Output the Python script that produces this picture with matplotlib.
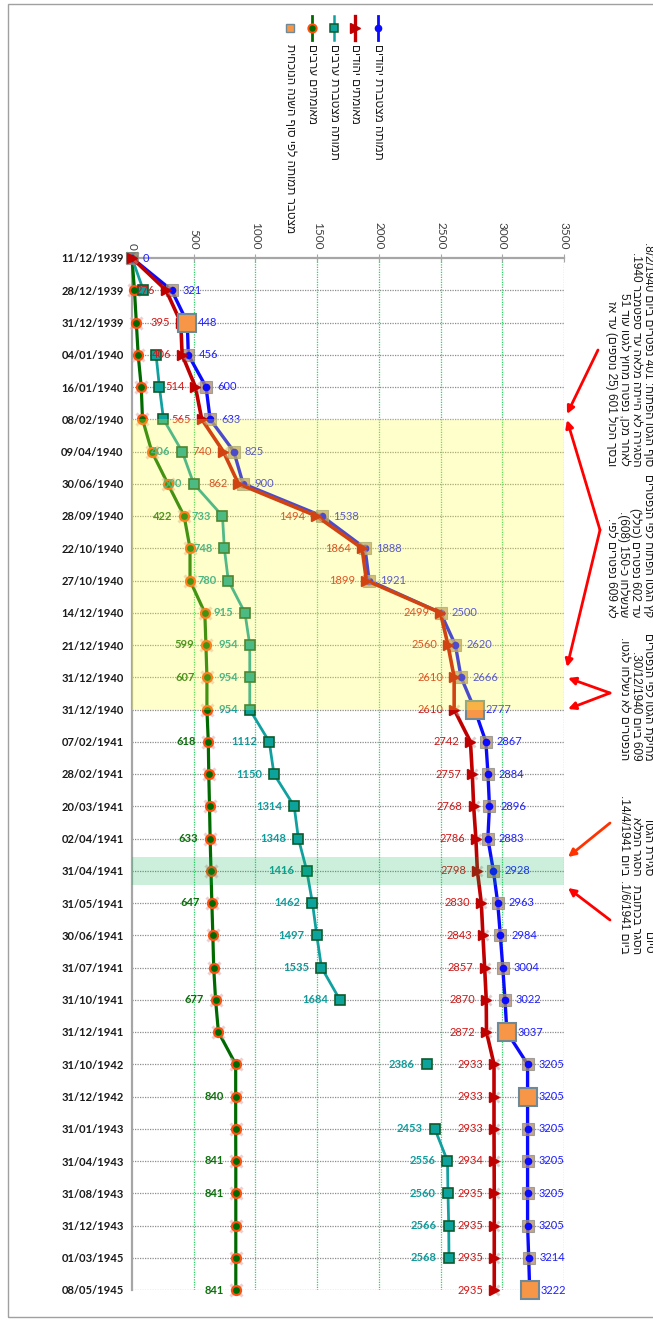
import re
import numpy as np
import matplotlib
matplotlib.use("Agg")
import matplotlib.pyplot as plt
from matplotlib.lines import Line2D
from matplotlib.patches import Rectangle, FancyArrowPatch

# ---------------- data ----------------
dates = ["11/12/1939", "28/12/1939", "31/12/1939", "04/01/1940", "16/01/1940",
         "08/02/1940", "09/04/1940", "30/06/1940", "28/09/1940", "22/10/1940",
         "27/10/1940", "14/12/1940", "21/12/1940", "31/12/1940", "31/12/1940",
         "07/02/1941", "28/02/1941", "20/03/1941", "02/04/1941", "31/04/1941",
         "31/05/1941", "30/06/1941", "31/07/1941", "31/10/1941", "31/12/1941",
         "31/10/1942", "31/12/1942", "31/01/1943", "31/04/1943", "31/08/1943",
         "31/12/1943", "01/03/1945", "08/05/1945"]

jews_total = [0, 321, 448, 456, 600, 633, 825, 900, 1538, 1888, 1921, 2500, 2620,
              2666, 2777, 2867, 2884, 2896, 2883, 2928, 2963, 2984, 3004, 3022,
              3037, 3205, 3205, 3205, 3205, 3205, 3205, 3214, 3222]
jews_confirmed = [0, 276, 395, 406, 514, 565, 740, 862, 1494, 1864, 1899, 2499,
                  2560, 2610, 2610, 2742, 2757, 2768, 2786, 2798, 2830, 2843, 2857,
                  2870, 2872, 2933, 2933, 2933, 2934, 2935, 2935, 2935, 2935]
others_total = [0, 92, None, 195, 222, 255, 406, 500, 733, 748, 780, 915, 954, 954,
                954, 1112, 1150, 1314, 1348, 1416, 1462, 1497, 1535, 1684, None,
                2386, None, 2453, 2556, 2560, 2566, 2568, None]
others_confirmed = [0, 20, 35, 50, 75, 85, 160, 290, 422, 470, 470, 590, 599, 607,
                    607, 618, 622, 628, 633, 640, 647, 655, 662, 677, 700, 840, 840,
                    840, 841, 841, 841, 841, 841]
year_end = [None, None, 448, None, None, None, None, None, None, None, None, None,
            None, None, 2777, None, None, None, None, None, None, None, None, None,
            3037, None, 3205, None, None, None, None, None, 3222]

# which points carry a visible data label
teal_label_rows = [6, 7, 8, 9, 10, 11, 12, 13, 14, 15, 16, 17, 18, 19, 20, 21, 22,
                   23, 25, 27, 28, 29, 30, 31]
green_label_rows = [8, 12, 13, 15, 18, 20, 23, 26, 28, 29, 32]

xticks = [0, 500, 1000, 1500, 2000, 2500, 3000, 3500]

legend_labels = ["תמותה מצטברת יהודים", "מאומתים יהודים", "תמותה מצטברת ערבים",
                 "מאומתים ערבים", "מצטבר תמותה לפי סוף השנה הנוכחית"]

notes = [
    "סוף הגטו הפתוח: 401 נפטרים ביום 8/2/1940.\n"
    "הסגירה לא הייתה מלאה עד ספטמבר 1940.\n"
    "לאחר מכן, נפטרו מחוץ לגטו עוד 51\n"
    "ובסך הכול 601 (25 נוספים) עד אז",
    "קץ הגטו הפתוח לפי הנפטרים\n"
    "עד 602 נפטרים (כולל)\n"
    "שנשלחו כ-150 (608).\n"
    "לא 609 נפטרים לפי.",
    "מחיקת הגטו לפי הנפטרים\n"
    "609 ביום 30/12/1940.\n"
    "הנפטרים לא נשלחו לגטו.",
    "סגירת הגטו\n"
    "הסגר המלא\n"
    "ביום 14/4/1941.",
    "סיום\n"
    "הסגר בכתובת\n"
    "ביום 1/6/1941.",
]

# ---------------- helpers ----------------
W, H = 653, 1320
def fx(x):
    return x / W
def fy(y):
    return 1 - y / H

def vis(s):
    """simple visual ordering for RTL Hebrew lines"""
    out = []
    for line in s.split("\n"):
        r = line[::-1]
        r = re.sub(r"[0-9A-Za-z][0-9A-Za-z/.:\-]*[0-9A-Za-z]|[0-9A-Za-z]",
                   lambda m: m.group(0)[::-1], r)
        r = r.translate(str.maketrans("()", ")("))
        out.append(r)
    return "\n".join(out)

HEB = ["Liberation Sans", "DejaVu Sans"]
NUM = ["Lato", "DejaVu Sans"]

fig = plt.figure(figsize=(W / 100, H / 100), dpi=100)
fig.patch.set_facecolor("white")
ax = fig.add_axes([fx(132), fy(1290), fx(564) - fx(132), (1290 - 258) / H])

n = len(dates)
yy = np.arange(n)
blue = np.array(jews_total, dtype=float)
red = np.array(jews_confirmed, dtype=float)
teal = np.array(others_total, dtype=float)
green = np.array(others_confirmed, dtype=float)
orng = np.array(year_end, dtype=float)

ax.set_xlim(0, 3500)
ax.set_ylim(n - 1, 0)

# grid
for i in yy[1:]:
    ax.axhline(i, color="#8c8c8c", lw=0.9, ls=(0, (1, 1)), zorder=1)
for xv in xticks[1:]:
    ax.axvline(xv, color="#33cc66", lw=0.9, ls=(0, (1, 1)), zorder=1)

# series
C_BLUE, C_RED, C_TEAL, C_GREEN = "#0a0aff", "#c00000", "#11a0a0", "#006a00"
ax.plot(green, yy, color=C_GREEN, lw=2.3, zorder=3, clip_on=False)
ax.plot(green, yy, ls="none", marker="x", ms=8, mew=2.2, color="#e0b0b0", alpha=0.6,
        zorder=3.2, clip_on=False)
ax.plot(green, yy, ls="none", marker="o", ms=6.5, mfc=C_GREEN, mec="#ff5010", mew=1.6,
        zorder=3.4, clip_on=False)

ax.plot(teal, yy, color=C_TEAL, lw=2.0, zorder=3, clip_on=False)
ax.plot(teal, yy, ls="none", marker="s", ms=6.5, mfc="#0ba39c", mec="#0d5a2c", mew=1.2,
        zorder=3.4, clip_on=False)

ax.plot(blue, yy, color=C_BLUE, lw=2.4, zorder=4, clip_on=False)
ax.plot(blue, yy, ls="none", marker="s", ms=8, mfc="#b08a60", mec="#8a8a8a", mew=0.8,
        alpha=0.75, zorder=4.2, clip_on=False)
ax.plot(blue, yy, ls="none", marker="o", ms=4.5, mfc=C_BLUE, mec=C_BLUE,
        zorder=4.4, clip_on=False)

ax.plot(red, yy, color=C_RED, lw=2.6, zorder=5, clip_on=False)
ax.plot(red, yy, ls="none", marker="x", ms=7, mew=2.0, color="#c0a0a0", alpha=0.5,
        zorder=5.2, clip_on=False)
ax.plot(red, yy, ls="none", marker=">", ms=6.5, mfc=C_RED, mec=C_RED,
        zorder=5.4, clip_on=False)

ax.plot(orng, yy, ls="none", marker="s", ms=13, mfc="#f79646", mec="#6f8a96", mew=1.5,
        zorder=6, clip_on=False)

# data labels
LFS = 8
for i, v in enumerate(blue):
    ax.annotate(f"{int(v)}", (v, i), xytext=(11, 0), textcoords="offset pixels",
                ha="left", va="center", color="#1f1fff", fontsize=LFS, family=NUM,
                zorder=7, annotation_clip=False)
for i, v in enumerate(red):
    if i == 0:
        continue
    ax.annotate(f"{int(v)}", (v, i), xytext=(-11, 0), textcoords="offset pixels",
                ha="right", va="center", color="#d01818", fontsize=LFS, family=NUM,
                zorder=7)
for i in teal_label_rows:
    v = teal[i]
    ax.annotate(f"{int(v)}", (v, i), xytext=(-12, 0), textcoords="offset pixels",
                ha="right", va="center", color="#109c9c", fontsize=LFS,
                fontweight="bold", family=NUM, zorder=7)
for i in green_label_rows:
    v = green[i]
    ax.annotate(f"{int(v)}", (v, i), xytext=(-12, 0), textcoords="offset pixels",
                ha="right", va="center", color="#0e6e0e", fontsize=LFS,
                fontweight="bold", family=NUM, zorder=7)

# highlight bands (drawn over the series, semi-transparent)
ax.add_patch(Rectangle((0, 5), 3500, 9, facecolor=(1, 1, 0.26), alpha=0.27, lw=0,
                       zorder=10))
ax.add_patch(Rectangle((0, 18.57), 3500, 0.86, facecolor="#00b050", alpha=0.2, lw=0,
                       zorder=10))

# axes styling
for s in ["right", "bottom"]:
    ax.spines[s].set_visible(False)
for s in ["top", "left"]:
    ax.spines[s].set_color("#a6a6a6")
    ax.spines[s].set_linewidth(1.6)
    ax.spines[s].set_zorder(2)
ax.xaxis.tick_top()
ax.set_xticks(xticks)
ax.set_xticklabels([str(t) for t in xticks], rotation=-90, fontsize=8.5,
                   family=NUM, color="#404040")
ax.tick_params(axis="x", direction="inout", length=6, color="#a6a6a6", pad=3)
ax.set_yticks(yy)
ax.set_yticklabels(dates, fontsize=8, fontweight="bold", family=NUM, color="#1a1a1a")
ax.tick_params(axis="y", length=0, pad=6)
ax.set_facecolor("white")

# legend (rotated, drawn by hand)
leg = [
    (378, dict(color=C_BLUE, lw=2.0), dict(marker="o", ms=4.5, mfc=C_BLUE, mec=C_BLUE)),
    (355, dict(color=C_RED, lw=2.4), dict(marker=">", ms=6.5, mfc=C_RED, mec=C_RED)),
    (334, dict(color=C_TEAL, lw=1.8), dict(marker="s", ms=6, mfc="#0ba39c", mec="#0d5a2c", mew=1.1)),
    (312, dict(color=C_GREEN, lw=2.0), dict(marker="o", ms=6, mfc=C_GREEN, mec="#ff5010", mew=1.4)),
    (290, None, dict(marker="s", ms=6, mfc="#f79646", mec="#6f8a96", mew=1.0)),
]
for (x, lstyle, mstyle), lab in zip(leg, legend_labels):
    if lstyle is not None:
        fig.add_artist(Line2D([fx(x), fx(x)], [fy(16), fy(40)], transform=fig.transFigure,
                              **lstyle))
    fig.add_artist(Line2D([fx(x)], [fy(28)], transform=fig.transFigure, ls="none",
                          **mstyle))
    fig.text(fx(x), fy(44), vis(lab), rotation=-90, ha="center", va="top",
             fontsize=8.5, family=HEB, color="#1a1a1a")

# annotations
note_pos = [
    (654, 242, "top"),
    (654, 474, "top"),
    (654, 633, "top"),
    (654, 795, "top"),
    (654, 880, "top"),
]
for (x, y, va), txt in zip(note_pos, notes):
    fig.text(fx(x), fy(y), vis(txt), rotation=-90, ha="right", va=va, fontsize=8.5,
             family=HEB, color="#1a1a1a", linespacing=1.0, multialignment="right")

arrows = [
    ((598, 350), (567, 414), "#ff0000"),
    ((600, 530), (567, 420), "#ff0000"),
    ((600, 530), (567, 667), "#ff0000"),
    ((610, 693), (568, 678), "#ff0000"),
    ((610, 693), (568, 709), "#ff0000"),
    ((610, 823), (568, 857), "#ff3300"),
    ((610, 920), (568, 888), "#ff0000"),
]
for (a, b, c) in arrows:
    fig.add_artist(FancyArrowPatch((fx(a[0]), fy(a[1])), (fx(b[0]), fy(b[1])),
                                   transform=fig.transFigure, arrowstyle="-|>",
                                   mutation_scale=11, color=c, lw=2.0,
                                   shrinkA=0, shrinkB=0))

# outer chart border
fig.add_artist(Rectangle((fx(8), fy(1317)), 1.0, (1317 - 4) / H,
                         transform=fig.transFigure, fill=False, ec="#a0a0a0", lw=1.0))

fig.savefig("out.png", dpi=100, facecolor="white")
